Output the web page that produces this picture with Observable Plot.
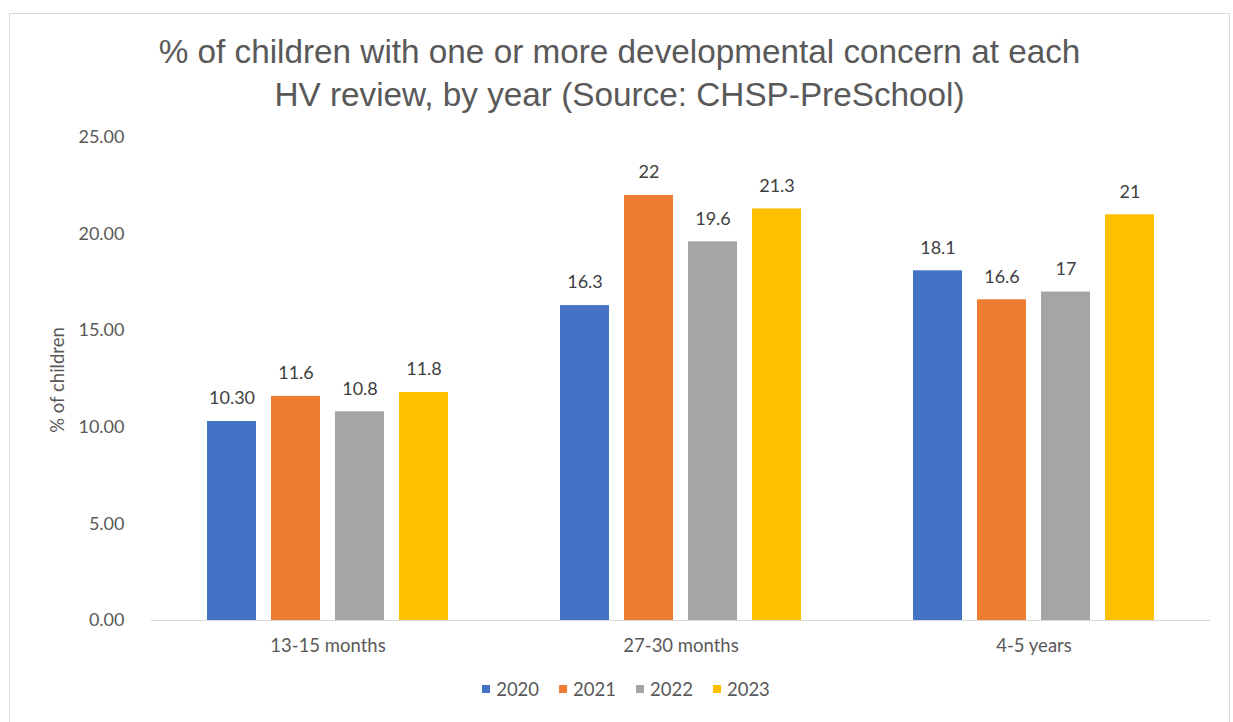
<!DOCTYPE html>
<html>
<head>
<meta charset="utf-8">
<script src="https://cdn.jsdelivr.net/npm/d3@7"></script>
<script src="https://cdn.jsdelivr.net/npm/@observablehq/plot@0.6"></script>
<style>
  html, body { margin: 0; padding: 0; background: #fff; }
  body { width: 1233px; height: 722px; position: relative; overflow: hidden; }
  #frame { position: absolute; left: 9px; top: 13px; width: 1221px; height: 740px; border: 1px solid #d9d9d9; box-sizing: border-box; }
  #title { position: absolute; left: 9px; width: 1221px; top: 30px; text-align: center; font-family: "Liberation Sans", Arial, sans-serif; font-size: 33.3px; line-height: 43px; color: #595959; }
  #chart { position: absolute; left: 0; top: 120px; }
  #ylabel { position: absolute; left: 57px; top: 380px; transform: translate(-50%, -50%) rotate(-90deg); white-space: nowrap; font-family: Lato, "Open Sans", sans-serif; font-size: 18.5px; color: #595959; }
  #legend { position: absolute; top: 678px; left: 0; width: 1233px; display: flex; justify-content: center; font-family: Lato, "Open Sans", sans-serif; font-size: 18.5px; color: #595959; padding-left: 19px; box-sizing: border-box; }
  #legend .item { display: flex; align-items: center; margin: 0 10px; }
  #legend .sw { width: 8px; height: 8px; margin-right: 6px; }
</style>
</head>
<body>
<div id="frame"></div>
<div id="title">% of children with one or more developmental concern at each<br>HV review, by year (Source: CHSP-PreSchool)</div>
<div id="chart"></div>
<div id="ylabel">% of children</div>
<div id="legend"></div>
<script>
const categories = ["13-15 months", "27-30 months", "4-5 years"];
const years = ["2020", "2021", "2022", "2023"];
const colors = ["#4472C4", "#ED7D31", "#A5A5A5", "#FFC000"];
const values2020 = [10.30, 16.3, 18.1];
const values2021 = [11.6, 22, 16.6];
const values2022 = [10.8, 19.6, 17];
const values2023 = [11.8, 21.3, 21];
const labels2020 = ["10.30", "16.3", "18.1"];
const labels2021 = ["11.6", "22", "16.6"];
const labels2022 = ["10.8", "19.6", "17"];
const labels2023 = ["11.8", "21.3", "21"];
const yTicks = [0, 5, 10, 15, 20, 25];

const seriesValues = [values2020, values2021, values2022, values2023];
const seriesLabels = [labels2020, labels2021, labels2022, labels2023];
const data = [];
categories.forEach((c, i) => {
  years.forEach((yr, j) => {
    data.push({cat: c, year: yr, value: seriesValues[j][i], label: seriesLabels[j][i]});
  });
});

// layout parameters
const W = 1233, H = 602, mL = 150, mR = 22, mT = 17, mB = 102;
const fxPadIn = 0.273, fxPadOut = 0.1365;
// half the gap between facets (equals the outer padding), so the baseline runs continuously
const fxStep = (W - mL - mR) / (categories.length - fxPadIn + 2 * fxPadOut);
const halfGap = fxStep * fxPadOut;

const chart = Plot.plot({
  width: W,
  height: H,
  marginLeft: mL,
  marginRight: mR,
  marginTop: mT,
  marginBottom: mB,
  style: {fontFamily: "Lato, 'Open Sans', sans-serif", fontSize: "18.5px", color: "#595959", background: "transparent"},
  fx: {domain: categories, paddingInner: fxPadIn, paddingOuter: fxPadOut, label: null},
  x: {domain: years, paddingInner: 0.23, paddingOuter: 0.115, axis: null},
  y: {domain: [0, 25], label: null},
  color: {domain: years, range: colors},
  marks: [
    Plot.barY(data, {fx: "cat", x: "year", y: "value", fill: "year"}),
    Plot.ruleY([0], {stroke: "#d9d9d9", strokeWidth: 1, insetLeft: -halfGap, insetRight: -halfGap}),
    Plot.text(data, {fx: "cat", x: "year", y: "value", text: "label", dy: -23, fill: "#404040", fontSize: 18}),
    Plot.axisY({ticks: yTicks, tickFormat: d3.format(".2f"), tickSize: 0, tickPadding: 75, label: null, fontSize: 18}),
    Plot.axisFx({anchor: "bottom", tickSize: 0, tickPadding: 18, label: null, fontSize: 18.5})
  ]
});
document.getElementById("chart").appendChild(chart);

const legend = document.getElementById("legend");
years.forEach((yr, j) => {
  const item = document.createElement("div");
  item.className = "item";
  const sw = document.createElement("span");
  sw.className = "sw";
  sw.style.background = colors[j];
  const t = document.createElement("span");
  t.textContent = yr;
  item.appendChild(sw);
  item.appendChild(t);
  legend.appendChild(item);
});
</script>
</body>
</html>
